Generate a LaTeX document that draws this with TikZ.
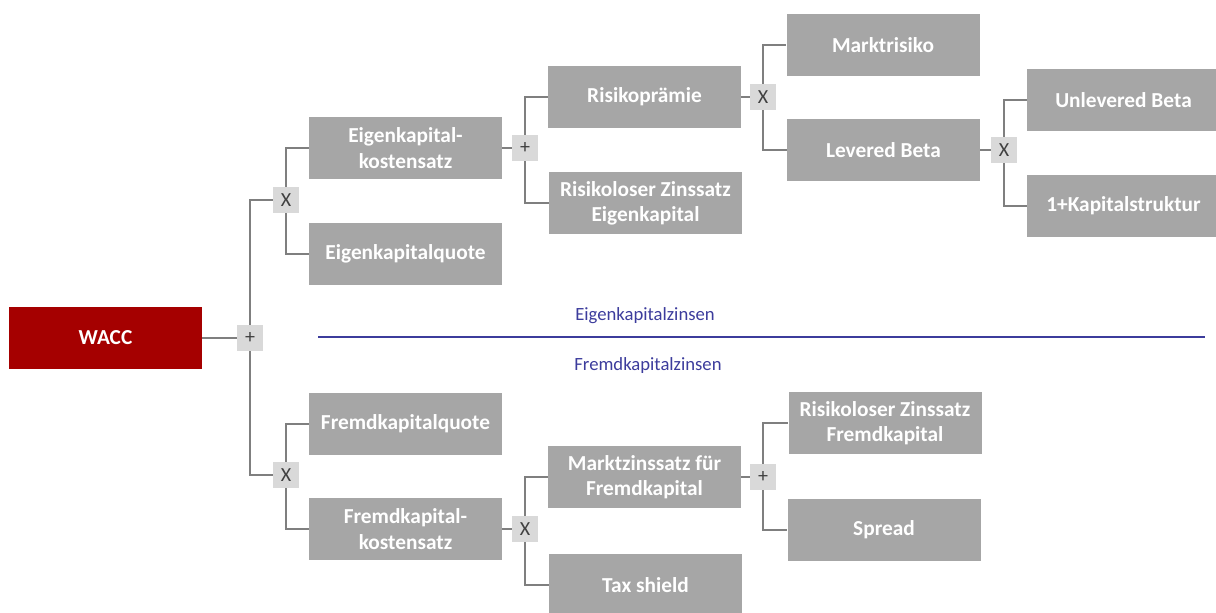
\documentclass[tikz,border=0pt]{standalone}
\usepackage{fontspec}
\setmainfont{Carlito}
\definecolor{leafgray}{HTML}{A6A6A6}
\definecolor{opgray}{HTML}{D9D9D9}
\definecolor{opink}{HTML}{404040}
\definecolor{linkgray}{HTML}{7F7F7F}
\definecolor{waccred}{HTML}{A50000}
\definecolor{divblue}{HTML}{3C3C9C}
\begin{document}
\begin{tikzpicture}[x=0.75pt,y=-0.75pt,
  leaf/.style={fill=leafgray, text=white, font=\bfseries\fontsize{16}{19}\selectfont,
    minimum width=144.75pt, minimum height=46.5pt, align=center, inner sep=0pt},
  root/.style={leaf, fill=waccred},
  op/.style={fill=opgray, text=opink, font=\fontsize{15}{17}\selectfont,
    minimum size=19.5pt, inner sep=0pt},
  link/.style={draw=linkgray, line width=1.2pt},
  divider/.style={draw=divblue, line width=1.4pt},
  sectionlabel/.style={text=divblue, font=\fontsize{14}{16}\selectfont, inner sep=0pt}
]
\useasboundingbox (0,0) rectangle (1216,612);

% operator and leaf nodes
\node[root] (wacc) at (105.5,338) {WACC};
\node[op] (opA) at (250,338) {+};

\node[op] (opB) at (286,200) {X};
\node[leaf] (ekk) at (405.5,148) {Eigenkapital-\\kostensatz};
\node[leaf] (ekq) at (405.5,254) {Eigenkapitalquote};

\node[op] (opC) at (525,148) {+};
\node[leaf] (rp) at (644.5,97) {Risikoprämie};
\node[leaf] (rfe) at (645.5,203) {Risikoloser Zinssatz\\Eigenkapital};

\node[op] (opD) at (763,97) {X};
\node[leaf] (mr) at (883,45) {Marktrisiko};
\node[leaf] (lb) at (883.5,150) {Levered Beta};

\node[op] (opE) at (1004,150) {X};
\node[leaf] (ub) at (1123.5,100) {Unlevered Beta};
\node[leaf] (ks) at (1123.5,206) {1+Kapitalstruktur};

\node[op] (opF) at (286,475) {X};
\node[leaf] (fkq) at (405.5,424) {Fremdkapitalquote};
\node[leaf] (fkk) at (405.5,529) {Fremdkapital-\\kostensatz};

\node[op] (opG) at (525,529) {X};
\node[leaf] (mz) at (644.5,477) {Marktzinssatz für\\Fremdkapital};
\node[leaf] (ts) at (645.5,585) {Tax shield};

\node[op] (opH) at (763,477) {+};
\node[leaf] (rff) at (885,423) {Risikoloser Zinssatz\\Fremdkapital};
\node[leaf] (sp) at (884,530) {Spread};

% tree connectors
\draw[link] (wacc.east) -- (opA.west);
\draw[link] (opA.north) |- (opB.west);
\draw[link] (opA.south) |- (opF.west);

\draw[link] (opB.north) |- (ekk.west);
\draw[link] (opB.south) |- (ekq.west);
\draw[link] (ekk.east) -- (opC.west);
\draw[link] (opC.north) |- (rp.west);
\draw[link] (opC.south) |- (rfe.west);
\draw[link] (rp.east) -- (opD.west);
\draw[link] (opD.north) |- (mr.west);
\draw[link] (opD.south) |- (lb.west);
\draw[link] (lb.east) -- (opE.west);
\draw[link] (opE.north) |- (ub.west);
\draw[link] (opE.south) |- (ks.west);

\draw[link] (opF.north) |- (fkq.west);
\draw[link] (opF.south) |- (fkk.west);
\draw[link] (fkk.east) -- (opG.west);
\draw[link] (opG.north) |- (mz.west);
\draw[link] (opG.south) |- (ts.west);
\draw[link] (mz.east) -- (opH.west);
\draw[link] (opH.north) |- (rff.west);
\draw[link] (opH.south) |- (sp.west);

% divider between equity and debt branches
\coordinate (divL) at (318,337);
\coordinate (divR) at (1205,337);
\draw[divider] (divL) -- (divR);
\node[sectionlabel] (ekz) at (645,316) {Eigenkapitalzinsen};
\node[sectionlabel] (fkz) at (648,366) {Fremdkapitalzinsen};
\end{tikzpicture}
\end{document}
